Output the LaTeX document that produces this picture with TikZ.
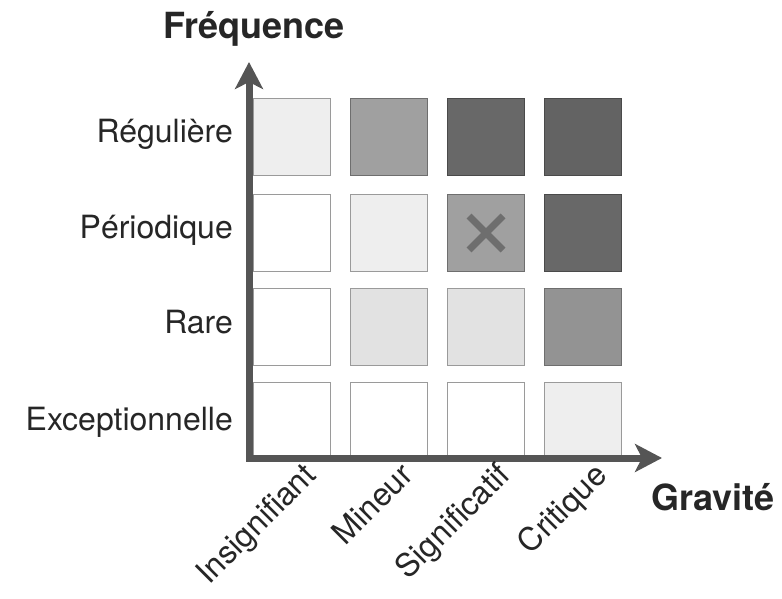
\documentclass[tikz,border=0pt]{standalone}
\usepackage{fontspec}
\setmainfont{TeX Gyre Heros}
\usetikzlibrary{arrows.meta}
\definecolor{axisc}{HTML}{555555}
\definecolor{lite}{HTML}{EEEEEE}
\definecolor{midc}{HTML}{A0A0A0}
\definecolor{darkc}{HTML}{686868}
\definecolor{rimlite}{HTML}{9A9A9A}
\definecolor{rimdark}{HTML}{4A4A4A}
\definecolor{crossc}{HTML}{6E6E6E}
\tikzset{
  cell/.style={draw=rimlite, line width=1.4pt, minimum size=77pt, inner sep=0pt, fill=white},
  cellL/.style={cell, fill=lite},
  cellM/.style={cell, fill=midc, draw=rimdark!80},
  cellD/.style={cell, fill=darkc, draw=rimdark},
  lab/.style={font=\fontsize{32}{36}\selectfont, inner sep=0pt, text=black!85},
  title/.style={font=\fontsize{36}{40}\selectfont\bfseries, inner sep=0pt, text=black!85},
  axis/.style={draw=axisc, line width=7pt, line join=miter, arrows={Stealth[length=27pt,width=28pt,inset=7pt]-Stealth[length=27pt,width=28pt,inset=7pt]}},
}
\begin{document}
\begin{tikzpicture}[x=1pt,y=-1pt]
\useasboundingbox (0,0) rectangle (782,599);
% cells: columns 292,389,486,583 ; rows 137,232,327,421
\node[cellL] (r1c1) at (292,137) {};
\node[cellM] (r1c2) at (389,137) {};
\node[cellD] (r1c3) at (486,137) {};
\node[cellD, fill=darkc!95!black] (r1c4) at (583,137) {};
\node[cell]  (r2c1) at (292,233) {};
\node[cellL] (r2c2) at (389,233) {};
\node[cellM] (r2c3) at (486,233) {};
\node[cellD] (r2c4) at (583,233) {};
\node[cell]  (r3c1) at (292,327) {};
\node[cellL, fill=lite!95!black] (r3c2) at (389,327) {};
\node[cellL, fill=lite!95!black] (r3c3) at (486,327) {};
\node[cellM, fill=midc!92!black] (r3c4) at (583,327) {};
\node[cell]  (r4c1) at (292,421) {};
\node[cell]  (r4c2) at (389,421) {};
\node[cell]  (r4c3) at (486,421) {};
\node[cellL] (r4c4) at (583,421) {};
% cross
\draw[crossc, line width=7pt] ([shift={(-17,-17)}]r2c3.center) -- ([shift={(17,17)}]r2c3.center);
\draw[crossc, line width=7pt] ([shift={(-17,17)}]r2c3.center) -- ([shift={(17,-17)}]r2c3.center);
% axes
\coordinate (origin) at (249,458);
\coordinate (ytip) at (249,62);
\coordinate (xtip) at (662,458);
\draw[axis] (ytip) -- (origin) -- (xtip);
% titles
\node[title, anchor=base] (freq) at (254,39) {Fréquence};
\node[title, anchor=base] (grav) at (713,510) {Gravité};
% row labels
\node[lab, anchor=base east] (l1) at (233,143) {Régulière};
\node[lab, anchor=base east] (l2) at (233,238) {Périodique};
\node[lab, anchor=base east] (l3) at (233,333) {Rare};
\node[lab, anchor=base east] (l4) at (233,430) {Exceptionnelle};
% column labels
\node[lab, anchor=base east, rotate=45] (c1) at (318,477) {Insignifiant};
\node[lab, anchor=base east, rotate=45] (c2) at (415,477) {Mineur};
\node[lab, anchor=base east, rotate=45] (c3) at (512,477) {Significatif};
\node[lab, anchor=base east, rotate=45] (c4) at (609,477) {Critique};
\end{tikzpicture}
\end{document}
